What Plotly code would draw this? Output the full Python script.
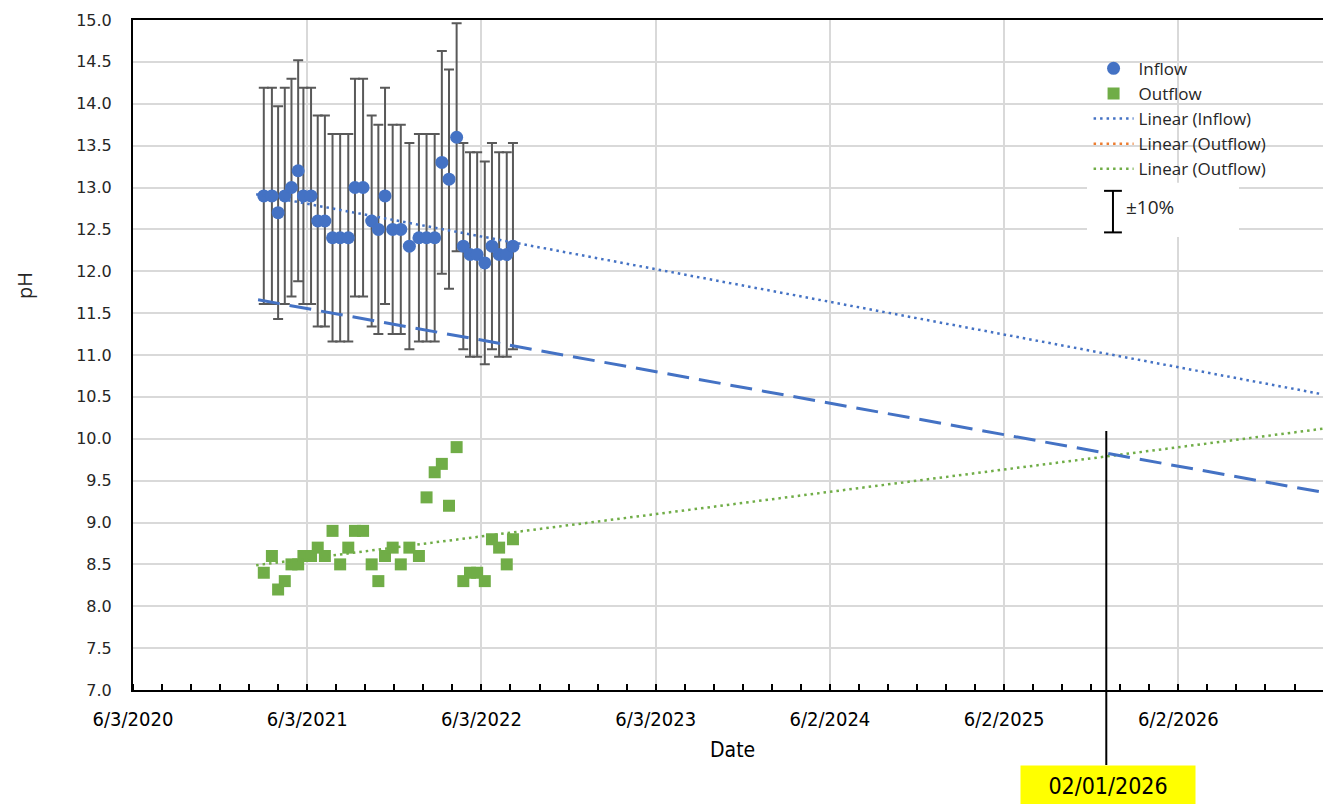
import plotly.graph_objects as go

# ---------------- data ----------------
sample_dates = [
    "2021-03-04", "2021-03-21", "2021-04-03", "2021-04-17", "2021-05-01",
    "2021-05-15", "2021-05-26", "2021-06-11", "2021-06-25", "2021-07-10",
    "2021-07-26", "2021-08-11", "2021-08-28", "2021-09-11", "2021-09-28",
    "2021-10-16", "2021-10-30", "2021-11-13", "2021-11-29", "2021-12-16",
    "2022-01-03", "2022-01-23", "2022-02-08", "2022-02-25", "2022-03-12",
    "2022-03-27", "2022-04-12", "2022-04-26", "2022-05-10", "2022-05-25",
    "2022-06-10", "2022-06-25", "2022-07-10", "2022-07-26", "2022-08-08",
]
inflow_ph = [12.9, 12.9, 12.7, 12.9, 13.0, 13.2, 12.9, 12.9, 12.6, 12.6,
             12.4, 12.4, 12.4, 13.0, 13.0, 12.6, 12.5, 12.9, 12.5, 12.5,
             12.3, 12.4, 12.4, 12.4, 13.3, 13.1, 13.6, 12.3, 12.2, 12.2,
             12.1, 12.3, 12.2, 12.2, 12.3]
outflow_ph = [8.4, 8.6, 8.2, 8.3, 8.5, 8.5, 8.6, 8.6, 8.7, 8.6,
              8.9, 8.5, 8.7, 8.9, 8.9, 8.5, 8.3, 8.6, 8.7, 8.5,
              8.7, 8.6, 9.3, 9.6, 9.7, 9.2, 9.9, 8.3, 8.4, 8.4,
              8.3, 8.8, 8.7, 8.5, 8.8]
error_percent = 10

trend_dates = ["2021-02-16", "2027-04-01"]
inflow_trend = [12.92, 10.53]
outflow_trend = [8.49, 10.12]
lower_dates = ["2021-02-20", "2027-04-01"]
lower_trend = [11.66, 9.36]

x_range = ["2020-06-03", "2027-04-01"]
x_tick_dates = ["2020-06-03", "2021-06-03", "2022-06-03", "2023-06-03",
                "2024-06-02", "2025-06-02", "2026-06-02"]
x_tick_labels = ["6/3/2020", "6/3/2021", "6/3/2022", "6/3/2023",
                 "6/2/2024", "6/2/2025", "6/2/2026"]
y_ticks = [7.0, 7.5, 8.0, 8.5, 9.0, 9.5, 10.0, 10.5, 11.0, 11.5,
           12.0, 12.5, 13.0, 13.5, 14.0, 14.5, 15.0]
marker_date = "2026-01-02"
marker_label = "02/01/2026"

BLUE = "#4472C4"
GREEN = "#70AD47"
ORANGE = "#ED7D31"
GRID = "#D9D9D9"
NARROW = "Liberation Sans Narrow, DejaVu Sans Condensed, Arial Narrow, sans-serif"
LEG = "Open Sans, Noto Sans, sans-serif"

fig = go.Figure()

fig.add_trace(go.Scatter(
    x=sample_dates, y=inflow_ph, mode="markers", name="Inflow",
    marker=dict(symbol="circle", size=13, color=BLUE),
    error_y=dict(type="percent", value=error_percent, color="#595959",
                 thickness=2, width=5),
))
fig.add_trace(go.Scatter(
    x=sample_dates, y=outflow_ph, mode="markers", name="Outflow",
    marker=dict(symbol="square", size=12, color=GREEN),
))
fig.add_trace(go.Scatter(
    x=trend_dates, y=inflow_trend, mode="lines", name="Linear (Inflow)",
    line=dict(color=BLUE, width=2.5, dash="2.5px,4px"),
))
fig.add_trace(go.Scatter(
    x=[None], y=[None], mode="lines", name="Linear (Outflow)",
    line=dict(color=ORANGE, width=2.5, dash="2.5px,4px"),
))
fig.add_trace(go.Scatter(
    x=trend_dates, y=outflow_trend, mode="lines", name="Linear (Outflow)",
    line=dict(color=GREEN, width=2.5, dash="2.5px,4px"),
))
fig.add_trace(go.Scatter(
    x=lower_dates, y=lower_trend, mode="lines", showlegend=False,
    line=dict(color=BLUE, width=3, dash="22px,10px"),
))

fig.update_layout(
    width=1324, height=804,
    margin=dict(l=133, r=1, t=20, b=114),
    paper_bgcolor="white", plot_bgcolor="white",
    showlegend=True,
    legend=dict(
        x=0.803, y=0.954, xanchor="left", yanchor="top",
        bgcolor="rgba(0,0,0,0)", font=dict(family=LEG, size=17, color="#262626"),
        tracegroupgap=0, itemwidth=40,
    ),
    xaxis=dict(
        type="date", range=x_range,
        tickmode="array", tickvals=x_tick_dates, ticktext=x_tick_labels,
        showgrid=True, gridcolor=GRID, gridwidth=2,
        showline=True, linecolor="black", linewidth=2, mirror=True,
        ticks="", tickfont=dict(family=NARROW, size=20, color="black"),
        ticklabelstandoff=10,
        minor=dict(ticks="inside", ticklen=6, tickcolor="black", tickwidth=1.5,
                   tick0="2020-06-03", dtick=5256000000, showgrid=False),
        zeroline=False,
    ),
    yaxis=dict(
        range=[7.0, 15.0], tickmode="array", tickvals=y_ticks,
        ticktext=[f"{v:.1f}" for v in y_ticks],
        showgrid=True, gridcolor=GRID, gridwidth=2,
        showline=True, linecolor="black", linewidth=2, mirror=False,
        ticks="", tickfont=dict(family="DejaVu Sans", size=16, color="#262626"),
        ticklabelstandoff=16, zeroline=False,
    ),
    shapes=[
        # white box holding the error-bar key
        dict(type="rect", xref="paper", yref="paper", x0=0.8017, x1=0.9294,
             y0=0.676, y1=0.757, fillcolor="white", line=dict(width=0), layer="above"),
        dict(type="line", xref="paper", yref="paper", x0=0.8235, x1=0.8235,
             y0=0.683, y1=0.745, line=dict(color="black", width=2), layer="above"),
        dict(type="line", xref="paper", yref="paper", x0=0.8160, x1=0.8310,
             y0=0.745, y1=0.745, line=dict(color="black", width=2), layer="above"),
        dict(type="line", xref="paper", yref="paper", x0=0.8160, x1=0.8310,
             y0=0.683, y1=0.683, line=dict(color="black", width=2), layer="above"),
        # vertical marker line
        dict(type="line", xref="x", yref="paper", x0=marker_date, x1=marker_date,
             y0=-0.112, y1=0.3866, line=dict(color="black", width=2), layer="above"),
    ],
    annotations=[
        dict(text="±10%", xref="paper", yref="paper", x=0.8325, y=0.721,
             xanchor="left", yanchor="middle", showarrow=False,
             font=dict(family=LEG, size=19, color="#262626")),
        dict(text="Date", xref="paper", yref="paper", x=(732 - 133) / 1190, y=-0.09,
             xanchor="center", yanchor="middle", showarrow=False,
             font=dict(family=NARROW, size=21, color="black")),
        dict(text="pH", xref="paper", yref="paper", x=(24 - 133) / 1190, y=(690 - 286) / 670,
             xanchor="center", yanchor="middle", showarrow=False, textangle=-90,
             font=dict(family=LEG, size=20, color="#262626")),
        dict(text=marker_label, xref="x", yref="paper", x=marker_date, y=-0.112,
             xanchor="center", yanchor="top", showarrow=False, xshift=2,
             bgcolor="#FFFF00", borderpad=6,
             font=dict(family=NARROW, size=23, color="black"),
             width=162, height=28),
    ],
)

fig.write_html("out.html")
